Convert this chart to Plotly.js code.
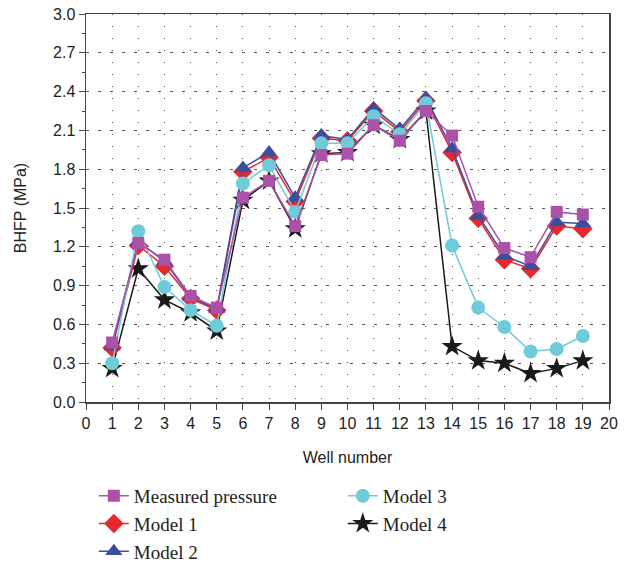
<!DOCTYPE html>
<html>
<head>
<meta charset="utf-8">
<script src="https://cdn.plot.ly/plotly-3.0.1.min.js"></script>
<style>html,body{margin:0;padding:0;background:#fff;}#chart{width:630px;height:563px;}</style>
</head>
<body>
<div id="chart"></div>
<script>
const wells = [1,2,3,4,5,6,7,8,9,10,11,12,13,14,15,16,17,18,19];
const measured = [0.46,1.23,1.10,0.82,0.73,1.58,1.71,1.36,1.91,1.92,2.14,2.02,2.25,2.06,1.51,1.19,1.12,1.47,1.45];
const model1 = [0.42,1.21,1.05,0.80,0.71,1.78,1.89,1.55,2.04,2.02,2.25,2.09,2.33,1.93,1.42,1.10,1.03,1.36,1.34];
const model2 = [0.43,1.24,1.09,0.81,0.72,1.81,1.93,1.58,2.06,2.03,2.27,2.11,2.35,1.96,1.44,1.13,1.05,1.39,1.38];
const model3 = [0.30,1.32,0.89,0.71,0.59,1.69,1.83,1.47,2.00,2.00,2.21,2.07,2.31,1.21,0.73,0.58,0.39,0.41,0.51];
const model4 = [0.26,1.03,0.79,0.69,0.55,1.56,1.71,1.34,1.92,1.93,2.14,2.03,2.25,0.43,0.32,0.30,0.22,0.26,0.32];
const seriesNames = ["Measured pressure","Model 1","Model 2","Model 3","Model 4"];
const yTicks = [0.0,0.3,0.6,0.9,1.2,1.5,1.8,2.1,2.4,2.7,3.0];

function tr(y, name, color, symbol, size, legend, rank) {
  return {x: wells, y: y, name: name, type: 'scatter', mode: 'lines+markers',
    line: {color: color, width: 1.5},
    marker: {color: color, symbol: symbol, size: size},
    legend: legend, legendrank: rank};
}
const traces = [
  tr(model4, seriesNames[4], '#1a1a1a', 'star', 16, 'legend2', 5),
  tr(model1, seriesNames[1], '#e8282c', 'diamond', 15, 'legend', 2),
  tr(model2, seriesNames[2], '#3a4ea0', 'triangle-up', 15, 'legend', 3),
  tr(model3, seriesNames[3], '#6fcbd8', 'circle', 14, 'legend2', 4),
  tr(measured, seriesNames[0], '#ab52a8', 'square', 12, 'legend', 1)
];
const axFont = {family: 'Liberation Sans, Arial, sans-serif', size: 16, color: '#222'};
const legFont = {family: 'Liberation Serif, Times New Roman, serif', size: 19, color: '#222'};
const layout = {
  width: 630, height: 563,
  margin: {l: 86, r: 21, t: 14, b: 161, autoexpand: false},
  paper_bgcolor: '#fff', plot_bgcolor: '#fff',
  showlegend: true,
  xaxis: {range: [0, 20], tickvals: [0,1,2,3,4,5,6,7,8,9,10,11,12,13,14,15,16,17,18,19,20],
    showline: true, mirror: true, linecolor: '#444', linewidth: 1.5,
    ticks: 'outside', ticklen: 6, tickcolor: '#444', tickfont: axFont,
    showgrid: true, gridcolor: '#555', gridwidth: 1, griddash: '1px,11px',
    zeroline: false,
    title: {text: 'Well number', font: axFont, standoff: 21}},
  yaxis: {range: [0, 3], tickvals: yTicks, ticktext: yTicks.map(v => v.toFixed(1)),
    showline: true, mirror: true, linecolor: '#444', linewidth: 1.5,
    ticks: 'outside', ticklen: 6, tickcolor: '#444', tickfont: axFont,
    minor: {dtick: 0.15, tick0: 0, ticks: 'outside', ticklen: 3, tickcolor: '#444', showgrid: false},
    showgrid: true, gridcolor: '#555', gridwidth: 1, griddash: '3px,9px',
    zeroline: false,
    title: {text: 'BHFP (MPa)', font: axFont, standoff: 22}},
  legend: {x: 0.015, y: -0.193, xanchor: 'left', yanchor: 'top', font: legFont,
    bgcolor: 'rgba(0,0,0,0)', traceorder: 'normal', itemwidth: 30},
  legend2: {x: 0.491, y: -0.193, xanchor: 'left', yanchor: 'top', font: legFont,
    bgcolor: 'rgba(0,0,0,0)', traceorder: 'normal', itemwidth: 30}
};
Plotly.newPlot('chart', traces, layout, {displayModeBar: false, staticPlot: true});
</script>
</body>
</html>
